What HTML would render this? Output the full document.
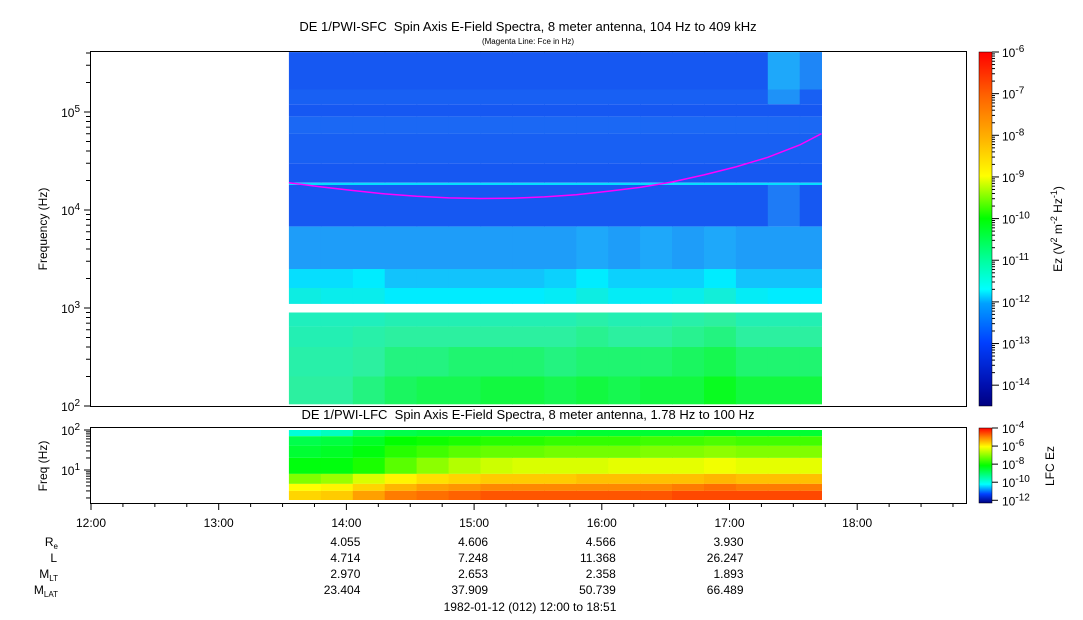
<!DOCTYPE html>
<html><head><meta charset="utf-8"><style>
html,body{margin:0;padding:0;background:#fff;}
svg{display:block;font-family:"Liberation Sans",sans-serif;}
</style></head><body>
<svg id="chart" width="1083" height="620" viewBox="0 0 1083 620" xmlns="http://www.w3.org/2000/svg">
<text x="528" y="31" font-size="13" text-anchor="middle" xml:space="preserve">DE 1/PWI-SFC&#160; Spin Axis E-Field Spectra, 8 meter antenna, 104 Hz to 409 kHz</text>
<text x="528" y="44" font-size="8" text-anchor="middle">(Magenta Line: Fce in Hz)</text>
<text x="528" y="419" font-size="13" text-anchor="middle">DE 1/PWI-LFC&#160; Spin Axis E-Field Spectra, 8 meter antenna, 1.78 Hz to 100 Hz</text>
<g id="topData"></g>
<g id="lowData"></g>
<polyline id="fce" fill="none" stroke="#ff00ff" stroke-width="1.5"/>
<rect x="90.5" y="51.5" width="876" height="355" fill="none" stroke="#000"/>
<rect x="90.5" y="427.5" width="876" height="76" fill="none" stroke="#000"/>
<g id="axes" font-size="12"></g>
<text transform="translate(47,229) rotate(-90)" font-size="12" text-anchor="middle">Frequency (Hz)</text>
<text transform="translate(47,466) rotate(-90)" font-size="12" text-anchor="middle">Freq (Hz)</text>
<defs>
<linearGradient id="cbTop" x1="0" y1="1" x2="0" y2="0">
<stop offset="0" stop-color="#000080"/><stop offset="0.06" stop-color="#0010b0"/><stop offset="0.18" stop-color="#0040ff"/>
<stop offset="0.29" stop-color="#00a0ff"/><stop offset="0.33" stop-color="#00ffff"/><stop offset="0.41" stop-color="#00ffa0"/>
<stop offset="0.53" stop-color="#00ff00"/><stop offset="0.65" stop-color="#ffff00"/><stop offset="0.76" stop-color="#ffb000"/>
<stop offset="0.88" stop-color="#ff6000"/><stop offset="1" stop-color="#ff0000"/></linearGradient>
<linearGradient id="cbLow" x1="0" y1="1" x2="0" y2="0">
<stop offset="0" stop-color="#000080"/><stop offset="0.12" stop-color="#0040ff"/><stop offset="0.25" stop-color="#00ffff"/>
<stop offset="0.5" stop-color="#00ff00"/><stop offset="0.75" stop-color="#ffff00"/><stop offset="0.88" stop-color="#ff8000"/><stop offset="1" stop-color="#ff0000"/></linearGradient>
</defs>
<rect x="979" y="52" width="13" height="354" fill="url(#cbTop)" stroke="#000" stroke-width="0.5"/>
<rect x="979" y="428" width="13" height="75" fill="url(#cbLow)" stroke="#000" stroke-width="0.5"/>
<g id="cbAxes" font-size="12"></g>
<text transform="translate(1062,229) rotate(-90)" font-size="12" text-anchor="middle">Ez (V<tspan dy="-5" font-size="9">2</tspan><tspan dy="5"> m</tspan><tspan dy="-5" font-size="9">-2</tspan><tspan dy="5"> Hz</tspan><tspan dy="-5" font-size="9">-1</tspan><tspan dy="5">)</tspan></text>
<text transform="translate(1054,466) rotate(-90)" font-size="12" text-anchor="middle">LFC Ez</text>
<g id="eph" font-size="12" text-anchor="end"></g>
<text x="530" y="611" font-size="12" text-anchor="middle">1982-01-12 (012) 12:00 to 18:51</text>
</svg>
<script>
// ---- data ----
const timeTicks = ["12:00","13:00","14:00","15:00","16:00","17:00","18:00"];
const dataStart = 13.55, dataEnd = 17.72;
const colTimes = [13.55,13.8,14.05,14.3,14.55,14.8,15.05,15.3,15.55,15.8,16.05,16.3,16.55,16.8,17.05,17.3,17.55];
// SFC bands: low/high freq (Hz), log10 Ez per column
const sfcLow  = [104, 200, 400, 650, 1100, 1600, 2500, 6800, 18000, 19000, 30000, 60000, 90000, 120000, 170000];
const sfcHigh = [200, 400, 650, 900, 1600, 2500, 6800, 18000, 19000, 30000, 60000, 90000, 120000, 170000, 409000];
const sfcVals = [
 [-11.0,-11.0,-10.8,-10.6,-10.5,-10.5,-10.4,-10.4,-10.5,-10.4,-10.5,-10.4,-10.4,-10.2,-10.4,-10.4,-10.4],
 [-11.1,-11.1,-11.0,-10.8,-10.8,-10.7,-10.7,-10.7,-10.8,-10.7,-10.7,-10.7,-10.6,-10.5,-10.7,-10.7,-10.7],
 [-11.2,-11.2,-11.1,-11.0,-11.0,-11.0,-11.0,-11.0,-11.0,-10.9,-11.0,-11.0,-10.9,-10.8,-11.0,-11.0,-11.0],
 [-11.3,-11.3,-11.3,-11.2,-11.2,-11.2,-11.2,-11.2,-11.2,-11.1,-11.2,-11.2,-11.1,-11.0,-11.2,-11.2,-11.2],
 [-11.7,-11.8,-11.8,-12.0,-12.0,-12.0,-12.0,-12.0,-11.9,-11.7,-11.9,-11.9,-11.8,-11.6,-11.9,-12.0,-12.0],
 [-12.1,-12.1,-12.0,-12.3,-12.3,-12.3,-12.3,-12.3,-12.2,-12.0,-12.2,-12.2,-12.2,-12.0,-12.3,-12.3,-12.3],
 [-12.6,-12.6,-12.6,-12.6,-12.6,-12.6,-12.6,-12.6,-12.6,-12.5,-12.6,-12.5,-12.6,-12.5,-12.6,-12.6,-12.6],
 [-13.3,-13.3,-13.3,-13.3,-13.3,-13.3,-13.3,-13.3,-13.3,-13.3,-13.3,-13.3,-13.3,-13.3,-13.3,-12.9,-13.3],
 [-12.1,-12.1,-12.1,-12.1,-12.1,-12.1,-12.1,-12.1,-12.1,-12.1,-12.1,-12.1,-12.1,-12.1,-12.1,-12.1,-12.1],
 [-13.3,-13.3,-13.3,-13.3,-13.3,-13.3,-13.3,-13.3,-13.3,-13.3,-13.3,-13.3,-13.3,-13.3,-13.3,-13.3,-13.3],
 [-13.2,-13.2,-13.2,-13.2,-13.2,-13.2,-13.2,-13.2,-13.2,-13.2,-13.2,-13.2,-13.2,-13.2,-13.2,-13.2,-13.2],
 [-13.1,-13.1,-13.1,-13.1,-13.1,-13.1,-13.1,-13.1,-13.1,-13.1,-13.1,-13.1,-13.1,-13.1,-13.1,-13.1,-13.1],
 [-13.3,-13.3,-13.3,-13.3,-13.3,-13.3,-13.3,-13.3,-13.3,-13.3,-13.3,-13.3,-13.3,-13.3,-13.3,-13.3,-13.3],
 [-13.2,-13.2,-13.2,-13.2,-13.2,-13.2,-13.2,-13.2,-13.2,-13.2,-13.2,-13.2,-13.2,-13.2,-13.2,-12.7,-13.2],
 [-13.3,-13.3,-13.3,-13.3,-13.3,-13.3,-13.3,-13.3,-13.3,-13.3,-13.3,-13.3,-13.3,-13.3,-13.3,-12.5,-12.8]
];
// LFC bands
const lfcLow  = [70, 40, 20, 8, 4.5, 3, 1.78];
const lfcHigh = [100, 70, 40, 20, 8, 4.5, 3];
const lfcVals = [
 [-9.7,-9.5,-8.8,-8.6,-8.5,-8.5,-8.5,-8.5,-8.5,-8.4,-8.4,-8.4,-8.4,-8.3,-8.4,-8.4,-8.4],
 [-8.6,-8.5,-8.3,-8.0,-7.9,-7.8,-7.7,-7.7,-7.6,-7.6,-7.6,-7.5,-7.5,-7.4,-7.5,-7.5,-7.5],
 [-8.4,-8.3,-8.1,-7.7,-7.5,-7.3,-7.2,-7.2,-7.1,-7.1,-7.1,-7.0,-7.0,-6.9,-7.0,-7.0,-7.0],
 [-8.1,-8.1,-7.8,-7.3,-6.9,-6.6,-6.4,-6.3,-6.3,-6.3,-6.2,-6.2,-6.2,-6.1,-6.2,-6.2,-6.2],
 [-7.0,-6.8,-6.3,-5.9,-5.7,-5.6,-5.5,-5.5,-5.5,-5.4,-5.4,-5.4,-5.4,-5.3,-5.4,-5.4,-5.4],
 [-6.0,-5.9,-5.6,-5.3,-5.1,-5.0,-4.9,-4.9,-4.9,-4.9,-4.9,-4.9,-4.8,-4.7,-4.8,-4.8,-4.8],
 [-5.6,-5.5,-5.1,-4.8,-4.7,-4.6,-4.5,-4.5,-4.5,-4.5,-4.5,-4.5,-4.4,-4.4,-4.4,-4.4,-4.4]
];
const fceTimes  = [13.55,13.8,14.05,14.3,14.55,14.8,15.05,15.3,15.55,15.8,16.05,16.3,16.55,16.8,17.05,17.3,17.55,17.72];
const fceValues = [19000,17200,15800,14600,13800,13300,13100,13200,13600,14300,15500,17000,19300,22800,27500,34500,46000,60000];
const ephLabels = ["Re","L","MLT","MLAT"];
const ephTimes = [14,15,16,17];
const ephRe   = ["4.055","4.606","4.566","3.930"];
const ephL    = ["4.714","7.248","11.368","26.247"];
const ephMLT  = ["2.970","2.653","2.358","1.893"];
const ephMLAT = ["23.404","37.909","50.739","66.489"];
const cbTopTicks = [-14,-13,-12,-11,-10,-9,-8,-7,-6];
const cbLowTicks = [-12,-10,-8,-6,-4];

// ---- scales ----
const NS="http://www.w3.org/2000/svg";
const xT = t => 91 + (t-12)*127.7;
const yTop = f => 406 - 98*(Math.log10(f)-2);
const yLow = f => 430 + 40*(2-Math.log10(f));
const yCbTop = v => 406 - (v+14.5)/8.5*354;
const yCbLow = v => 503 - (v+12.3)/8.3*75;
function mk(tag, attrs, parent){const e=document.createElementNS(NS,tag);for(const k in attrs)e.setAttribute(k,attrs[k]);parent.appendChild(e);return e;}
function lerpC(stops, v){
  if(v<=stops[0][0]){const c=stops[0][1];return `rgb(${c[0]},${c[1]},${c[2]})`;}
  for(let i=1;i<stops.length;i++){if(v<=stops[i][0]){const a=stops[i-1],b=stops[i];const t=(v-a[0])/(b[0]-a[0]);
    const c=a[1].map((x,j)=>Math.round(x+(b[1][j]-x)*t));return `rgb(${c[0]},${c[1]},${c[2]})`;}}
  const l=stops[stops.length-1][1];return `rgb(${l[0]},${l[1]},${l[2]})`;
}
const topStops=[[-14.5,[0,0,128]],[-14,[0,0,170]],[-13.5,[16,72,240]],[-13,[30,112,245]],[-12.5,[30,168,250]],[-12,[0,236,255]],[-11,[44,240,160]],[-10,[0,255,0]],[-9,[255,255,0]],[-8,[255,176,0]],[-7,[255,96,0]],[-6,[255,0,0]]];
const lowStops=[[-12.3,[0,0,128]],[-11,[0,64,255]],[-10,[0,255,255]],[-8,[0,255,0]],[-6,[255,255,0]],[-5,[255,150,0]],[-4,[255,20,0]]];

// ---- spectrogram cells ----
const gT=document.getElementById('topData');
sfcLow.forEach((lo,bi)=>{
  colTimes.forEach((t,ci)=>{
    const t2 = ci<colTimes.length-1?colTimes[ci+1]:dataEnd;
    const r=mk('rect',{x:xT(t).toFixed(1),y:yTop(sfcHigh[bi]).toFixed(1),width:(xT(t2)-xT(t)+0.6).toFixed(1),height:(yTop(lo)-yTop(sfcHigh[bi])).toFixed(1),fill:lerpC(topStops,sfcVals[bi][ci])},gT);
    
    
  });
});
const gL=document.getElementById('lowData');
lfcLow.forEach((lo,bi)=>{
  colTimes.forEach((t,ci)=>{
    const t2 = ci<colTimes.length-1?colTimes[ci+1]:dataEnd;
    const r=mk('rect',{x:xT(t).toFixed(1),y:yLow(lfcHigh[bi]).toFixed(1),width:(xT(t2)-xT(t)+0.6).toFixed(1),height:(yLow(lo)-yLow(lfcHigh[bi])).toFixed(1),fill:lerpC(lowStops,lfcVals[bi][ci])},gL);
    
    
  });
});
document.getElementById('fce').setAttribute('points',fceTimes.map((t,i)=>xT(t).toFixed(1)+','+yTop(fceValues[i]).toFixed(1)).join(' '));

// ---- axes ----
const ax=document.getElementById('axes');
function sup(g,x,y,base,exp,anchor,name){
  const t=mk('text',{x:x,y:y,'text-anchor':anchor,'font-size':12},g);
  
  
  t.innerHTML=base+'<tspan dy="-5" font-size="10">'+exp+'</tspan>';
}
for(let d=2;d<=5;d++){
  for(let m=1;m<10;m++){const f=m*Math.pow(10,d);if(f>409000)break;const y=yTop(f);
    mk('line',{x1:m==1?84:86,x2:90,y1:y,y2:y,stroke:'#000'},ax);}
  sup(ax,80,yTop(Math.pow(10,d))+5,'10',d,'end','top-y-tick-label');
}
for(let d=0;d<=1;d++){
  for(let m=1;m<10;m++){const f=m*Math.pow(10,d);if(f<1.78)continue;const y=yLow(f);
    mk('line',{x1:m==1?84:86,x2:90,y1:y,y2:y,stroke:'#000'},ax);}
}
mk('line',{x1:84,x2:90,y1:yLow(100),y2:yLow(100),stroke:'#000'},ax);
sup(ax,80,yLow(100)+5,'10',2,'end','bottom-y-tick-label');
sup(ax,80,yLow(10)+5,'10',1,'end','bottom-y-tick-label');
for(let q=0;q<=27;q++){const t=12+q*0.25;const x=xT(t);if(x>966)break;
  mk('line',{x1:x,x2:x,y1:503,y2:q%4==0?510:507,stroke:'#000'},ax);}
timeTicks.forEach((lab,i)=>{const t=mk('text',{x:xT(12+i),y:527,'text-anchor':'middle'},ax);t.textContent=lab;
  
  });

// ---- colorbar axes ----
const cb=document.getElementById('cbAxes');
cbTopTicks.forEach(v=>{const y=yCbTop(v);mk('line',{x1:992,x2:999,y1:y,y2:y,stroke:'#000'},cb);
  for(let m=2;m<10;m++){const yy=yCbTop(v+Math.log10(m));if(yy<52)break;mk('line',{x1:992,x2:995,y1:yy,y2:yy,stroke:'#000'},cb);}
  sup(cb,1002,y+5,'10',v,'start','top-colorbar-tick-label');});
cbLowTicks.forEach(v=>{const y=yCbLow(v);mk('line',{x1:992,x2:998,y1:y,y2:y,stroke:'#000'},cb);
  sup(cb,1002,y+5,'10',v,'start','bottom-colorbar-tick-label');});

// ---- ephemeris ----
const eg=document.getElementById('eph');
const ephRows=[ephRe,ephL,ephMLT,ephMLAT];
const ephY=[546,562,578,594];
const labHtml=['R<tspan dy="3" font-size="8">e</tspan>','L','M<tspan dy="3" font-size="8">LT</tspan>','M<tspan dy="3" font-size="8">LAT</tspan>'];
ephRows.forEach((row,ri)=>{
  const l=mk('text',{x:ri==1?57:58,y:ephY[ri]},eg);l.innerHTML=labHtml[ri];
  
  
  row.forEach((v,i)=>{const t=mk('text',{x:xT(ephTimes[i])+14,y:ephY[ri]},eg);t.textContent=v;
    
    });
});
</script>
</body></html>
